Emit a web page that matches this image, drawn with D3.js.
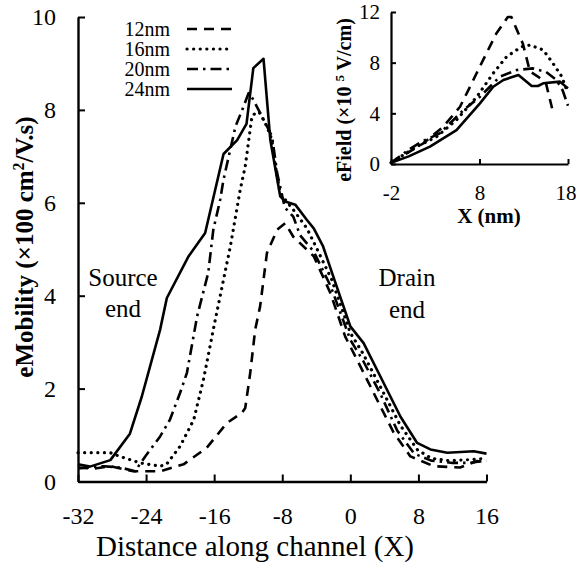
<!DOCTYPE html>
<html><head><meta charset="utf-8">
<script src="https://cdn.jsdelivr.net/npm/d3@7"></script>
<style>
body{margin:0;background:#fff;}
svg text{font-family:"Liberation Serif","Times New Roman",serif;fill:#000;}
</style></head>
<body><svg id="c" width="576" height="565"></svg>
<script>
// ---------- data ----------
const seriesNames = ["12nm","16nm","20nm","24nm"];
const xTicks = [-32,-24,-16,-8,0,8,16];
const yTicks = [0,2,4,6,8,10];
const insetXTicks = [-2,8,18];
const insetYTicks = [0,4,8,12];

// main chart: eMobility vs distance
const x12 = [-32,-30,-28.2,-25.5,-22.35,-19.6,-16.9,-14.5,-12.74,-12.35,-11.76,-11.18,-10.6,-9.8,-8.6,-7.65,-6.7,-4.3,-2.35,-0.6,1.18,3.14,5.1,7.06,9.8,12.9,14.9,16];
const y12 = [0.3,0.28,0.33,0.22,0.22,0.37,0.72,1.26,1.48,1.58,2.34,3.27,3.77,4.92,5.42,5.56,5.27,4.85,4.06,3.12,2.48,1.76,1.05,0.54,0.33,0.3,0.44,0.41];
const x16 = [-32,-28.2,-27.1,-24.7,-22.35,-21.6,-20,-18.4,-17.26,-16.1,-15.7,-14.1,-12.94,-12.35,-11.56,-11,-10.6,-9.8,-9.2,-9,-8.24,-6.7,-5.1,-3.9,-2.2,0,1.5,3.5,5.9,7.9,9.5,11.5,14,16];
const y16 = [0.62,0.62,0.54,0.4,0.33,0.37,0.76,1.33,2.19,3.27,3.63,5.06,6.28,6.78,7.86,7.96,7.93,7.64,7.35,7.0,6.2,5.85,5.45,5.0,4.35,3.2,2.75,2.05,1.2,0.68,0.5,0.45,0.47,0.5];
const x20 = [-32,-29,-27,-25.3,-24.1,-22.35,-21.2,-20,-19.2,-18,-16.7,-16.1,-15.3,-14.9,-13.5,-12.55,-11.96,-11.5,-10.5,-9.2,-8.6,-7.7,-6.7,-5.9,-4.3,-2.3,0,1.5,3.5,5.5,7.5,9.5,12,14,16];
const y20 = [0.28,0.33,0.3,0.22,0.54,0.97,1.33,1.91,2.34,3.56,4.49,5.42,6.06,6.5,7.64,8.07,8.36,8.25,7.9,7.43,6.64,5.9,5.7,5.3,4.95,4.2,3.05,2.6,1.9,1.1,0.6,0.45,0.4,0.4,0.45];
const x24 = [-32,-30.6,-28.2,-25.9,-24.5,-22.35,-21.56,-19,-17.06,-14.9,-13.3,-12.2,-11.4,-10.2,-9.4,-8.24,-7.65,-6.47,-5.1,-4.3,-3.2,-2.15,0,1.56,3.53,5.88,7.85,9.41,11.4,14.5,16];
const y24 = [0.37,0.32,0.46,1.03,1.83,3.27,3.95,4.85,5.35,7.05,7.35,7.7,8.9,9.1,7.35,6.14,6.03,5.96,5.63,5.45,5.06,4.49,3.34,2.98,2.26,1.4,0.83,0.69,0.62,0.65,0.6];

// inset: eField vs X (nm)
const ix12 = [-2,-0.23,1.65,3.9,5.8,6.93,8.4,9.9,11.2,11.6,12.9,13.7,14.6,15.5,16.2];
const iy12 = [0.1,0.84,1.63,2.94,4.52,6.1,8.2,10.3,11.6,11.6,9.5,7.3,6.9,6.4,4.4];
const ix16 = [-2,0.9,3.16,5.4,7.7,9.55,11.06,12.75,13.7,15.2,16.3,17.3,17.85];
const iy16 = [0.1,1.37,2.15,3.47,5.31,7.16,8.47,9.26,9.39,9.0,7.95,6.9,5.84];
const ix20 = [-2,0.15,1.3,3.5,6.2,8.05,10.3,12.2,14,15.5,16.7,17.4,18];
const iy20 = [0.1,1.2,1.7,2.42,4.26,5.31,6.89,7.42,7.55,7.28,6.63,5.8,4.6];
const ix24 = [-2,0,2.4,5.4,8.05,9.55,10.7,12.4,13.9,14.6,15.2,17.1,18];
const iy24 = [0.1,0.6,1.37,2.68,4.79,6.1,6.63,7.03,6.16,6.16,6.37,6.5,5.97];

// ---------- drawing ----------
const dashes = {"12nm":"10,7","16nm":"0.1,6.5","20nm":"11,5,2.5,5","24nm":null};
const mainData = [[x12,y12],[x16,y16],[x20,y20],[x24,y24]];
const insetData = [[ix12,iy12],[ix16,iy16],[ix20,iy20],[ix24,iy24]];
const svg = d3.select("#c");

function styleLine(sel, name, w){
  sel.attr("fill","none").attr("stroke","#000").attr("stroke-width",w)
     .attr("stroke-linejoin","round");
  if(name==="16nm") sel.attr("stroke-linecap","round").attr("stroke-width",w+0.6);
  if(dashes[name]) sel.attr("stroke-dasharray",dashes[name]);
}

// main scales
const X = d3.scaleLinear().domain([-32,16]).range([78,486.5]);
const Y = d3.scaleLinear().domain([0,10]).range([481.5,17]);
const font = "Liberation Serif";

const line = d3.line().x(d=>X(d[0])).y(d=>Y(d[1]));
seriesNames.forEach((n,i)=>{
  const pts = mainData[i][0].map((v,j)=>[v,mainData[i][1][j]]);
  svg.append("path").attr("d",line(pts)).call(styleLine,n,2.6);
});

// main axes
const gx = svg.append("g").attr("transform",`translate(0,${Y(0)})`)
  .call(d3.axisBottom(X).tickValues(xTicks).tickSize(-7).tickSizeOuter(0).tickFormat(d=>String(d)));
gx.select(".domain").attr("stroke-width",2.4);
gx.selectAll(".tick line").attr("stroke-width",2);
gx.selectAll("text").attr("y",42).attr("dy","0").attr("font-size",24).attr("font-family",font);

const gy = svg.append("g").attr("transform",`translate(${X(-32)},0)`)
  .call(d3.axisLeft(Y).tickValues(yTicks).tickSize(-7).tickSizeOuter(0).tickFormat(d=>String(d)));
gy.select(".domain").attr("stroke-width",2.4);
gy.selectAll(".tick line").attr("stroke-width",2);
gy.selectAll("text").attr("x",-22).attr("dy","0.33em").attr("font-size",24).attr("font-family",font);

svg.append("text").attr("x",255).attr("y",556).attr("text-anchor","middle")
  .attr("font-size",29).text("Distance along channel (X)");
const yt = svg.append("text").attr("transform","translate(33,247) rotate(-90)")
  .attr("text-anchor","middle").attr("font-size",25).attr("font-weight","bold");
yt.append("tspan").text("eMobility (×100 cm");
yt.append("tspan").attr("font-size",16).attr("dy",-9).text("2");
yt.append("tspan").attr("dy",9).text("/V.s)");

// annotations
[["Source",123,286],["end",123,317],["Drain",407,286],["end",407,318]].forEach(t=>{
  svg.append("text").attr("x",t[1]).attr("y",t[2]).attr("text-anchor","middle")
    .attr("font-size",25).text(t[0]);
});

// legend
seriesNames.forEach((n,i)=>{
  const yy = 29 + i*20;
  svg.append("text").attr("x",170).attr("y",yy+7).attr("text-anchor","end")
    .attr("font-size",20).text(n);
  svg.append("line").attr("x1",187).attr("x2",232).attr("y1",yy).attr("y2",yy).call(styleLine,n,2.6);
});

// inset
const IX = d3.scaleLinear().domain([-2,18]).range([391,568]);
const IY = d3.scaleLinear().domain([0,12]).range([164,12]);
const iline = d3.line().x(d=>IX(d[0])).y(d=>IY(d[1]));
seriesNames.forEach((n,i)=>{
  const pts = insetData[i][0].map((v,j)=>[v,insetData[i][1][j]]);
  svg.append("path").attr("d",iline(pts)).call(styleLine,n,2.6);
});
const igx = svg.append("g").attr("transform",`translate(0,${IY(0)})`)
  .call(d3.axisBottom(IX).tickValues(insetXTicks).tickSize(-5).tickSizeOuter(0).tickFormat(d=>String(d)));
igx.select(".domain").attr("stroke-width",2.2);
igx.selectAll(".tick line").attr("stroke-width",2);
igx.selectAll("text").attr("y",36).attr("dy","0").attr("font-size",21).attr("font-family",font);
igx.selectAll(".tick").filter(d=>d===18).select("text").attr("text-anchor","end").attr("x",576-568);
const igy = svg.append("g").attr("transform",`translate(${IX(-2)},0)`)
  .call(d3.axisLeft(IY).tickValues(insetYTicks).tickSize(-5).tickSizeOuter(0).tickFormat(d=>String(d)));
igy.select(".domain").attr("stroke-width",2.2);
igy.selectAll(".tick line").attr("stroke-width",2);
igy.selectAll("text").attr("x",-11).attr("dy","0.33em").attr("font-size",21).attr("font-family",font);

svg.append("text").attr("x",489).attr("y",223).attr("text-anchor","middle")
  .attr("font-size",21).attr("font-weight","bold").text("X (nm)");
const iyt = svg.append("text").attr("transform","translate(351,100) rotate(-90)")
  .attr("text-anchor","middle").attr("font-size",20).attr("font-weight","bold");
iyt.append("tspan").text("eField (×10 ");
iyt.append("tspan").attr("font-size",13).attr("dy",-7).text("5");
iyt.append("tspan").attr("dy",7).text(" V/cm)");
</script></body></html>
